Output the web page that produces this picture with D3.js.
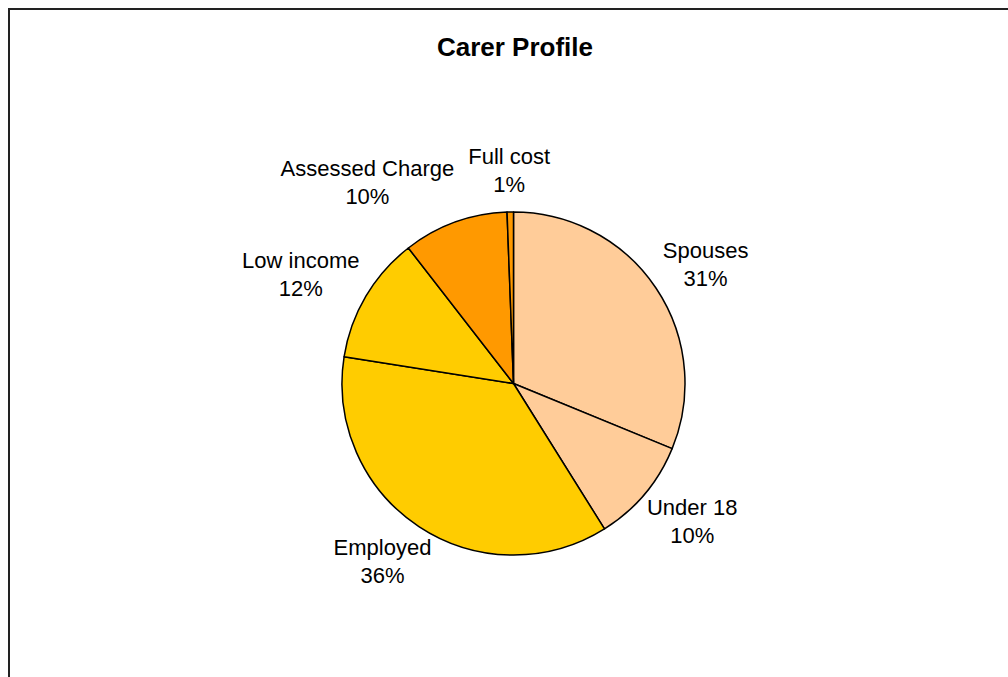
<!DOCTYPE html>
<html>
<head>
<meta charset="utf-8">
<script src="https://cdn.jsdelivr.net/npm/d3@7"></script>
<style>
  html, body { margin: 0; padding: 0; background: #fff; }
  svg { display: block; }
  text { font-family: "Liberation Sans", Arial, sans-serif; fill: #000; }
</style>
</head>
<body>
<svg id="chart" width="1008" height="677"></svg>
<script>
// ---- data ----
const title = "Carer Profile";
const categories = ["Spouses", "Under 18", "Employed", "Low income", "Assessed Charge", "Full cost"];
const values = [31.2, 9.9, 36.4, 12.0, 9.9, 0.6];
const sliceColors = ["#FFCC99", "#FFCC99", "#FFCC00", "#FFCC00", "#FF9900", "#FF9900"];

// ---- layout ----
const W = 1008, H = 677;
const cx = 513.5, cy = 383.5, R = 171.5;
const svg = d3.select("#chart");

// outer frame (chart area border, extends beyond the window)
svg.append("path")
  .attr("d", `M9,${H + 5} L9,9 L${W + 5},9`)
  .attr("fill", "none")
  .attr("stroke", "#222")
  .attr("stroke-width", 2);

svg.append("text")
  .attr("x", 515).attr("y", 56)
  .attr("text-anchor", "middle")
  .style("font-size", "26px")
  .style("font-weight", "bold")
  .text(title);

const data = categories.map((c, i) => ({ name: c, value: values[i], color: sliceColors[i] }));
const pie = d3.pie().sort(null).value(d => d.value).startAngle(0).endAngle(2 * Math.PI);
const arcs = pie(data);
const arc = d3.arc().innerRadius(0).outerRadius(R);

const g = svg.append("g").attr("transform", `translate(${cx},${cy})`);
g.selectAll("path.slice")
  .data(arcs)
  .join("path")
  .attr("class", "slice")
  .attr("d", arc)
  .attr("fill", d => d.data.color)
  .attr("stroke", "#000")
  .attr("stroke-width", 1.5)
  .attr("stroke-linejoin", "round");

// ---- labels ----
const total = d3.sum(values);
const fmt = v => Math.round(v / total * 100) + "%";
const fontSize = 22, lineGap = 28, boxH = 58, gap = 13, pad = 8;

const labels = arcs.map(a => {
  const t = g.append("text")
    .attr("text-anchor", "middle")
    .style("font-size", fontSize + "px");
  t.append("tspan").attr("class", "l1").text(a.data.name);
  t.append("tspan").attr("class", "l2").text(fmt(a.data.value));
  const w = Math.max(
    t.select(".l1").node().getComputedTextLength(),
    t.select(".l2").node().getComputedTextLength()) + pad;
  const m = (a.startAngle + a.endAngle) / 2;
  const s = Math.sin(m), c = Math.cos(m);
  const x = (R + gap) * s + (w / 2) * s;
  const y = -(R + gap) * c - (boxH / 2) * c;
  return { t, w, x, y, m };
});

// simple horizontal collision resolution between neighbouring labels
for (let iter = 0; iter < 5; iter++) {
  for (let i = 0; i < labels.length; i++) {
    for (let j = i + 1; j < labels.length; j++) {
      const A = labels[i], B = labels[j];
      const ox = (A.w + B.w) / 2 + 6 - Math.abs(A.x - B.x);
      const oy = boxH - Math.abs(A.y - B.y);
      if (ox > 0 && oy > 0) {
        const mover = Math.abs(A.x) > Math.abs(B.x) ? A : B;
        const other = mover === A ? B : A;
        const dir = mover.x < other.x ? -1 : 1;
        mover.x += dir * ox;
      }
    }
  }
}

labels.forEach(L => {
  L.t.select(".l1").attr("x", L.x).attr("y", L.y - 6.5);
  L.t.select(".l2").attr("x", L.x).attr("y", L.y - 6.5 + lineGap);
});
</script>
</body>
</html>
